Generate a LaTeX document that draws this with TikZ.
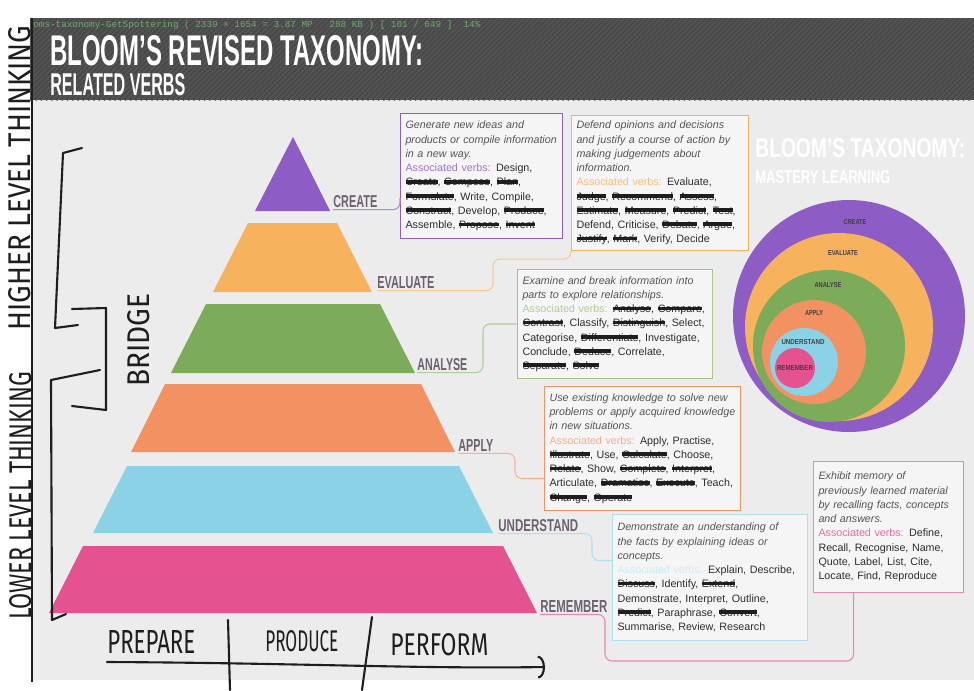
\documentclass[tikz,border=0pt]{standalone}
\usepackage{fontspec}
\setmainfont{Liberation Sans}
\setmonofont{Liberation Mono}
\newfontfamily\handfont{Fira Sans}
\usetikzlibrary{positioning, arrows.meta, patterns}
\definecolor{PageGray}{RGB}{236, 236, 236}
\definecolor{HeadGray}{RGB}{74, 74, 74}
\definecolor{HeadStripe}{RGB}{92, 92, 92}
\definecolor{CreatePurple}{RGB}{141, 92, 196}
\definecolor{EvalOrange}{RGB}{246, 178, 92}
\definecolor{AnalyseGreen}{RGB}{124, 171, 90}
\definecolor{ApplySalmon}{RGB}{242, 146, 98}
\definecolor{UnderBlue}{RGB}{140, 210, 230}
\definecolor{RememberPink}{RGB}{228, 82, 143}
\definecolor{LabelGray}{RGB}{108, 98, 112}
\definecolor{DescGray}{RGB}{85, 85, 85}
\definecolor{VerbGray}{RGB}{45, 45, 45}
\definecolor{InkBlack}{RGB}{30, 30, 30}
\definecolor{ScreenGreen}{RGB}{110, 170, 110}

% handwritten strike-through over a word
\newsavebox\scribbox
\newcommand{\scrib}[1]{\leavevmode\sbox\scribbox{#1}\rlap{\usebox\scribbox}{\color{InkBlack}\rule[0.22em]{\wd\scribbox}{0.34em}}}

\begin{document}
\begin{tikzpicture}[
    x=0.02cm, y=-0.02cm,
    layerlabel/.style={anchor=base west, inner sep=0, text=LabelGray, font=\bfseries},
    ringlabel/.style={inner sep=0, text=black!75, font=\bfseries},
    verbbox/.style={draw=#1, line width=0.6pt, fill=PageGray!50!white, anchor=north west,
      align=left, inner xsep=0.1cm, inner ysep=0.1cm, text=VerbGray,
      font=\fontsize{6.1}{8.1}\selectfont},
    link/.style={draw=#1, line width=0.6pt, rounded corners=4pt},
    ink/.style={draw=InkBlack, line width=1.2pt, line cap=round, line join=round},
    hand/.style={inner sep=0, text=InkBlack, font=\handfont}
  ]
  \useasboundingbox (0,0) rectangle (974,690);
  \fill[white] (0,0) rectangle (974,690);

  % page and header
  \fill[PageGray] (32,100) rectangle (974,680);
  \fill[HeadGray] (30,18) rectangle (974,100);
  \fill[pattern=north east lines, pattern color=HeadStripe] (30,18) rectangle (974,100);
  \draw[InkBlack, line width=0.8pt] (32,18) -- (32,682);

  \node[anchor=west, inner sep=0, text=ScreenGreen, font=\ttfamily\fontsize{5.3}{6}\selectfont] (screen) at (33,25)
    {oms-taxonomy-GetSpottering ( 2339 × 1654 = 3.87 MP \ \ 288 KB ) [ 101 / 649 ] \ 14\%};
  \node[anchor=north west, inner sep=0, text=white, font=\bfseries] (title) at (50,35)
    {\resizebox{7.46cm}{0.6cm}{BLOOM'S REVISED TAXONOMY:}};
  \node[anchor=north west, inner sep=0, text=white, font=\bfseries] (subtitle) at (50,73)
    {\resizebox{2.7cm}{0.44cm}{RELATED VERBS}};

  % pyramid
  \fill[CreatePurple] (255,211) -- (293,137) -- (330,211) -- cycle;
  \fill[EvalOrange] (213,292) -- (248,223) -- (337,223) -- (372,292) -- cycle;
  \fill[AnalyseGreen] (171,373) -- (206,304) -- (380,304) -- (415,373) -- cycle;
  \fill[ApplySalmon] (131,452) -- (165,384) -- (421,384) -- (455,452) -- cycle;
  \fill[UnderBlue] (93,533) -- (127,466) -- (459,466) -- (493,533) -- cycle;
  \fill[RememberPink] (49,613) -- (83,546) -- (503,546) -- (537,613) -- cycle;

  \node[layerlabel] (lcreate) at (333,207) {\resizebox{0.88cm}{0.24cm}{CREATE}};
  \node[layerlabel] (leval) at (377,288) {\resizebox{1.14cm}{0.24cm}{EVALUATE}};
  \node[layerlabel] (lanalyse) at (417,370) {\resizebox{1.0cm}{0.24cm}{ANALYSE}};
  \node[layerlabel] (lapply) at (458,451) {\resizebox{0.7cm}{0.24cm}{APPLY}};
  \node[layerlabel] (lunder) at (498,531) {\resizebox{1.6cm}{0.24cm}{UNDERSTAND}};
  \node[layerlabel] (lremember) at (540,612) {\resizebox{1.34cm}{0.24cm}{REMEMBER}};

  % verb boxes
  \node[verbbox=CreatePurple, minimum width=3.24cm, minimum height=2.5cm, text width=3.04cm] (bcreate) at (400,113)
    {{\itshape\color{DescGray}Generate new ideas and\\ products or compile information\\ in a new way.}\\
     {\color{CreatePurple!85}Associated verbs:} Design,\\
     \scrib{Create}, \scrib{Compose}, \scrib{Plan},\\
     \scrib{Formulate}, Write, Compile,\\
     \scrib{Construct}, Develop, \scrib{Produce},\\
     Assemble, \scrib{Propose}, \scrib{Invent}};
  \node[verbbox=EvalOrange, minimum width=3.54cm, minimum height=2.7cm, text width=3.34cm] (beval) at (571,115)
    {{\itshape\color{DescGray}Defend opinions and decisions\\ and justify a course of action by\\ making judgements about\\ information.}\\
     {\color{EvalOrange!85}Associated verbs:} Evaluate,\\
     \scrib{Judge}, \scrib{Recommend}, \scrib{Assess},\\
     \scrib{Estimate}, \scrib{Measure}, \scrib{Predict}, \scrib{Test},\\
     Defend, Criticise, \scrib{Debate}, \scrib{Argue},\\
     \scrib{Justify}, \scrib{Mark}, Verify, Decide};
  \node[verbbox=AnalyseGreen!70, minimum width=3.9cm, minimum height=2.18cm, text width=3.7cm] (banalyse) at (517,269)
    {{\itshape\color{DescGray}Examine and break information into\\ parts to explore relationships.}\\
     {\color{AnalyseGreen!60}Associated verbs:} \scrib{Analyse}, \scrib{Compare},\\
     \scrib{Contrast}, Classify, \scrib{Distinguish}, Select,\\
     Categorise, \scrib{Differentiate}, Investigate,\\
     Conclude, \scrib{Deduce}, Correlate,\\
     \scrib{Separate}, \scrib{Solve}};
  \node[verbbox=ApplySalmon, minimum width=3.92cm, minimum height=2.48cm, text width=3.72cm] (bapply) at (544,386)
    {{\itshape\color{DescGray}Use existing knowledge to solve new\\ problems or apply acquired knowledge\\ in new situations.}\\
     {\color{ApplySalmon!75}Associated verbs:} Apply, Practise,\\
     \scrib{Illustrate}, Use, \scrib{Calculate}, Choose,\\
     \scrib{Relate}, Show, \scrib{Complete}, \scrib{Interpret},\\
     Articulate, \scrib{Dramatise}, \scrib{Execute}, Teach,\\
     \scrib{Change}, \scrib{Operate}};
  \node[verbbox=UnderBlue!70, minimum width=3.9cm, minimum height=2.52cm, text width=3.7cm] (bunder) at (612,514)
    {{\itshape\color{DescGray}Demonstrate an understanding of\\ the facts by explaining ideas or\\ concepts.}\\
     {\color{UnderBlue!45}Associated verbs:} Explain, Describe,\\
     \scrib{Discuss}, Identify, \scrib{Extend},\\
     Demonstrate, Interpret, Outline,\\
     \scrib{Predict}, Paraphrase, \scrib{Convert},\\
     Summarise, Review, Research};
  \node[verbbox=RememberPink!70, minimum width=3.0cm, minimum height=2.62cm, text width=2.8cm] (bremember) at (813,461)
    {{\itshape\color{DescGray}Exhibit memory of\\ previously learned material\\ by recalling facts, concepts\\ and answers.}\\
     {\color{RememberPink!85}Associated verbs:} Define,\\
     Recall, Recognise, Name,\\
     Quote, Label, List, Cite,\\
     Locate, Find, Reproduce};

  % label to box connectors
  \draw[link=CreatePurple!70] ([yshift=-1.2pt]lcreate.south west) -| ([yshift=-0.44cm]bcreate.west);
  \draw[link=EvalOrange!70] ([yshift=-1.2pt]leval.south west) -| ([xshift=-1.56cm,yshift=-0.16cm]beval.south west)
    -- ([yshift=-0.16cm]beval.south west) -- (beval.south west);
  \draw[link=AnalyseGreen!60] ([yshift=-1.2pt]lanalyse.south west) -| ([xshift=-0.68cm]banalyse.west) -- (banalyse.west);
  \draw[link=ApplySalmon!70] ([yshift=-1.2pt]lapply.south west) -| ([xshift=-0.58cm,yshift=-0.6cm]bapply.west)
    -- ([yshift=-0.6cm]bapply.west);
  \draw[link=UnderBlue!70] ([yshift=-1.2pt]lunder.south west) -| ([xshift=-0.4cm,yshift=0.34cm]bunder.west)
    -- ([yshift=0.34cm]bunder.west);
  \draw[link=RememberPink!70] ([yshift=-1.2pt]lremember.south west) -- ++(65,0)
    |- ([xshift=-0.7cm,yshift=-1.36cm]bremember.south) -- ([xshift=-0.7cm]bremember.south);

  % mastery learning circles
  \node[anchor=north west, inner sep=0, text=white, font=\bfseries] (mtitle) at (755,138)
    {\resizebox{4.2cm}{0.38cm}{BLOOM'S TAXONOMY:}};
  \node[anchor=north west, inner sep=0, text=white, font=\bfseries] (msub) at (755,170)
    {\resizebox{2.7cm}{0.26cm}{MASTERY LEARNING}};
  \fill[CreatePurple] (849,316) circle [radius=116];
  \fill[EvalOrange] (839,327) circle [radius=94];
  \fill[AnalyseGreen] (829,346) circle [radius=76];
  \fill[ApplySalmon] (814,352) circle [radius=52];
  \fill[UnderBlue] (804,362) circle [radius=34];
  \fill[RememberPink] (795,368) circle [radius=20];
  \node[ringlabel] (rcreate) at (855,222) {\resizebox{0.46cm}{0.1cm}{CREATE}};
  \node[ringlabel] (reval) at (843,253) {\resizebox{0.6cm}{0.1cm}{EVALUATE}};
  \node[ringlabel] (ranalyse) at (828,285) {\resizebox{0.54cm}{0.1cm}{ANALYSE}};
  \node[ringlabel] (rapply) at (814,313) {\resizebox{0.36cm}{0.1cm}{APPLY}};
  \node[ringlabel] (runder) at (803,342) {\resizebox{0.86cm}{0.1cm}{UNDERSTAND}};
  \node[ringlabel] (rremember) at (795,368) {\resizebox{0.72cm}{0.1cm}{REMEMBER}};

  % handwriting
  \node[hand, rotate=90] (higher) at (20,178) {\resizebox{6.1cm}{0.44cm}{HIGHER LEVEL THINKING}};
  \node[hand, rotate=90] (lower) at (21,496) {\resizebox{4.96cm}{0.44cm}{LOWER LEVEL THINKING}};
  \node[hand, rotate=90] (bridge) at (139,340) {\resizebox{1.86cm}{0.44cm}{BRIDGE}};
  \draw[ink] (82,148) -- (63,153) -- (55,328) -- (78,325);
  \draw[ink] (72,309) -- (106,308) -- (106,410) -- (72,406);
  \draw[ink] (100,370) -- (51,380) -- (52,620) -- (66,614);

  \node[hand, anchor=south west] (prepare) at (107,654) {\resizebox{1.76cm}{0.46cm}{PREPARE}};
  \node[hand, anchor=south west] (produce) at (265,652) {\resizebox{1.46cm}{0.42cm}{PRODUCE}};
  \node[hand, anchor=south west] (perform) at (390,656) {\resizebox{1.96cm}{0.44cm}{PERFORM}};
  \coordinate (timeend) at (545,667);
  \draw[ink, -{Arc Barb[length=4pt, width=13pt]}] ([yshift=-0.16cm]prepare.south west)
    .. controls (300,663) and (420,669) .. (timeend);
  \draw[ink] (228,620) -- (230,690);
  \draw[ink] (372,617) -- (362,690);
\end{tikzpicture}
\end{document}
